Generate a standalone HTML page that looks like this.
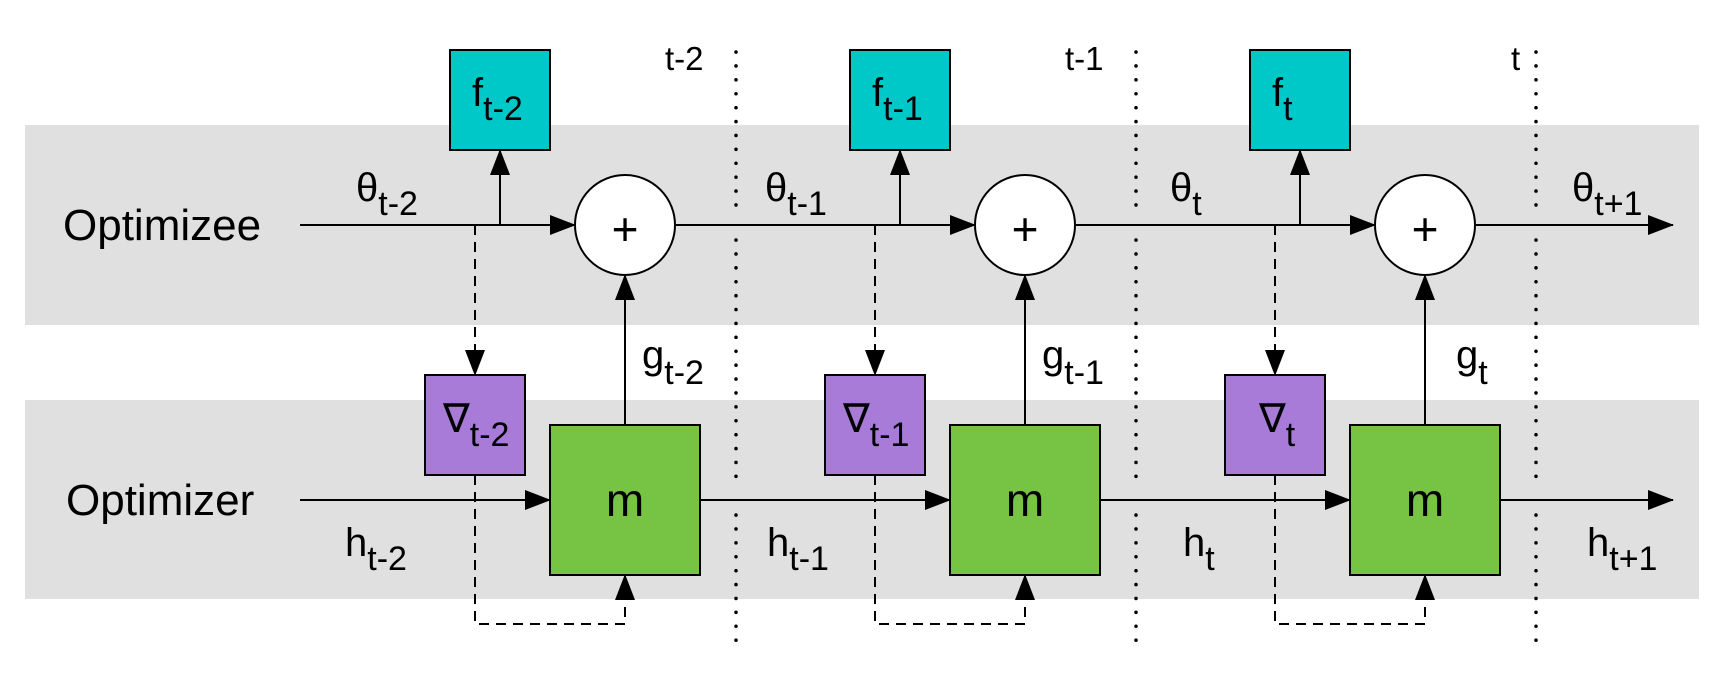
<!DOCTYPE html>
<html><head><meta charset="utf-8"><style>
html,body{margin:0;padding:0;background:#fff}
svg{display:block}
text{font-family:"Liberation Sans",Arial,sans-serif;fill:#000}
</style></head><body>
<svg width="1725" height="681" viewBox="0 0 1725 681" xmlns="http://www.w3.org/2000/svg">
<defs>
<marker id="ah" markerWidth="26" markerHeight="20" refX="25" refY="10" orient="auto" markerUnits="userSpaceOnUse">
<path d="M0,0 L26,10 L0,20 Z" fill="#000"/>
</marker>
</defs>
<rect x="25" y="125" width="1674" height="200" fill="#e0e0e0"/>
<rect x="25" y="400" width="1674" height="199" fill="#e0e0e0"/>
<text x="63" y="240" font-size="44">Optimizee</text>
<text x="66" y="515" font-size="44">Optimizer</text>

<g stroke="#000" stroke-width="3.5" stroke-linecap="round" stroke-dasharray="0.1 13.8">
<line x1="736" y1="52" x2="736" y2="205"/><line x1="736" y1="240" x2="736" y2="480"/><line x1="736" y1="515" x2="736" y2="643"/>
<line x1="1136" y1="52" x2="1136" y2="205"/><line x1="1136" y1="240" x2="1136" y2="480"/><line x1="1136" y1="515" x2="1136" y2="643"/>
<line x1="1536" y1="52" x2="1536" y2="205"/><line x1="1536" y1="240" x2="1536" y2="480"/><line x1="1536" y1="515" x2="1536" y2="643"/>
</g>
<text x="665" y="70" font-size="33">t-2</text>
<text x="1065" y="70" font-size="33">t-1</text>
<text x="1511" y="70" font-size="33">t</text>

<line x1="300" y1="225" x2="575" y2="225" stroke="#000" stroke-width="2" marker-end="url(#ah)"/>
<line x1="675" y1="225" x2="975" y2="225" stroke="#000" stroke-width="2" marker-end="url(#ah)"/>
<line x1="1075" y1="225" x2="1375" y2="225" stroke="#000" stroke-width="2" marker-end="url(#ah)"/>
<line x1="1475" y1="225" x2="1673" y2="225" stroke="#000" stroke-width="2" marker-end="url(#ah)"/>
<line x1="300" y1="500" x2="550" y2="500" stroke="#000" stroke-width="2" marker-end="url(#ah)"/>
<line x1="700" y1="500" x2="950" y2="500" stroke="#000" stroke-width="2" marker-end="url(#ah)"/>
<line x1="1100" y1="500" x2="1350" y2="500" stroke="#000" stroke-width="2" marker-end="url(#ah)"/>
<line x1="1500" y1="500" x2="1673" y2="500" stroke="#000" stroke-width="2" marker-end="url(#ah)"/>

<g>
<line x1="500" y1="225" x2="500" y2="150" stroke="#000" stroke-width="2" marker-end="url(#ah)"/>
<line x1="475" y1="225" x2="475" y2="375" stroke="#000" stroke-width="2" stroke-dasharray="10 7" marker-end="url(#ah)"/>
<path d="M475,475 L475,624 L625,624 L625,575" fill="none" stroke="#000" stroke-width="2" stroke-dasharray="10 7" marker-end="url(#ah)"/>
<line x1="625" y1="425" x2="625" y2="275" stroke="#000" stroke-width="2" marker-end="url(#ah)"/>
<rect x="450" y="50" width="100" height="100" fill="#00c8c8" stroke="#000" stroke-width="2"/>
<rect x="425" y="375" width="100" height="100" fill="#a87bd8" stroke="#000" stroke-width="2"/>
<rect x="550" y="425" width="150" height="150" fill="#77c445" stroke="#000" stroke-width="2"/>
<circle cx="625" cy="225" r="50" fill="#fff" stroke="#000" stroke-width="2"/>
<text x="625" y="245" font-size="46" text-anchor="middle">+</text>
<text x="625" y="516" font-size="46" text-anchor="middle">m</text>
</g>
<g transform="translate(400,0)">
<line x1="500" y1="225" x2="500" y2="150" stroke="#000" stroke-width="2" marker-end="url(#ah)"/>
<line x1="475" y1="225" x2="475" y2="375" stroke="#000" stroke-width="2" stroke-dasharray="10 7" marker-end="url(#ah)"/>
<path d="M475,475 L475,624 L625,624 L625,575" fill="none" stroke="#000" stroke-width="2" stroke-dasharray="10 7" marker-end="url(#ah)"/>
<line x1="625" y1="425" x2="625" y2="275" stroke="#000" stroke-width="2" marker-end="url(#ah)"/>
<rect x="450" y="50" width="100" height="100" fill="#00c8c8" stroke="#000" stroke-width="2"/>
<rect x="425" y="375" width="100" height="100" fill="#a87bd8" stroke="#000" stroke-width="2"/>
<rect x="550" y="425" width="150" height="150" fill="#77c445" stroke="#000" stroke-width="2"/>
<circle cx="625" cy="225" r="50" fill="#fff" stroke="#000" stroke-width="2"/>
<text x="625" y="245" font-size="46" text-anchor="middle">+</text>
<text x="625" y="516" font-size="46" text-anchor="middle">m</text>
</g>
<g transform="translate(800,0)">
<line x1="500" y1="225" x2="500" y2="150" stroke="#000" stroke-width="2" marker-end="url(#ah)"/>
<line x1="475" y1="225" x2="475" y2="375" stroke="#000" stroke-width="2" stroke-dasharray="10 7" marker-end="url(#ah)"/>
<path d="M475,475 L475,624 L625,624 L625,575" fill="none" stroke="#000" stroke-width="2" stroke-dasharray="10 7" marker-end="url(#ah)"/>
<line x1="625" y1="425" x2="625" y2="275" stroke="#000" stroke-width="2" marker-end="url(#ah)"/>
<rect x="450" y="50" width="100" height="100" fill="#00c8c8" stroke="#000" stroke-width="2"/>
<rect x="425" y="375" width="100" height="100" fill="#a87bd8" stroke="#000" stroke-width="2"/>
<rect x="550" y="425" width="150" height="150" fill="#77c445" stroke="#000" stroke-width="2"/>
<circle cx="625" cy="225" r="50" fill="#fff" stroke="#000" stroke-width="2"/>
<text x="625" y="245" font-size="46" text-anchor="middle">+</text>
<text x="625" y="516" font-size="46" text-anchor="middle">m</text>
</g>

<g font-size="40">
<text x="472" y="106">f<tspan font-size="34" dy="14">t-2</tspan></text>
<text x="872" y="106">f<tspan font-size="34" dy="14">t-1</tspan></text>
<text x="1272" y="106">f<tspan font-size="34" dy="14">t</tspan></text>

<text x="356" y="201">θ<tspan font-size="34" dy="14">t-2</tspan></text>
<text x="765" y="201">θ<tspan font-size="34" dy="14">t-1</tspan></text>
<text x="1170" y="201">θ<tspan font-size="34" dy="14">t</tspan></text>
<text x="1572" y="201">θ<tspan font-size="34" dy="14">t+1</tspan></text>

<text x="642" y="368">g<tspan font-size="34" dy="16">t-2</tspan></text>
<text x="1042" y="368">g<tspan font-size="34" dy="16">t-1</tspan></text>
<text x="1456" y="368">g<tspan font-size="34" dy="16">t</tspan></text>

<text x="443" y="432">∇<tspan font-size="34" dy="14">t-2</tspan></text>
<text x="843" y="432">∇<tspan font-size="34" dy="14">t-1</tspan></text>
<text x="1259" y="432">∇<tspan font-size="34" dy="14">t</tspan></text>

<text x="345" y="556">h<tspan font-size="34" dy="14">t-2</tspan></text>
<text x="767" y="556">h<tspan font-size="34" dy="14">t-1</tspan></text>
<text x="1183" y="556">h<tspan font-size="34" dy="14">t</tspan></text>
<text x="1587" y="556">h<tspan font-size="34" dy="14">t+1</tspan></text>
</g>
</svg>
</body></html>
